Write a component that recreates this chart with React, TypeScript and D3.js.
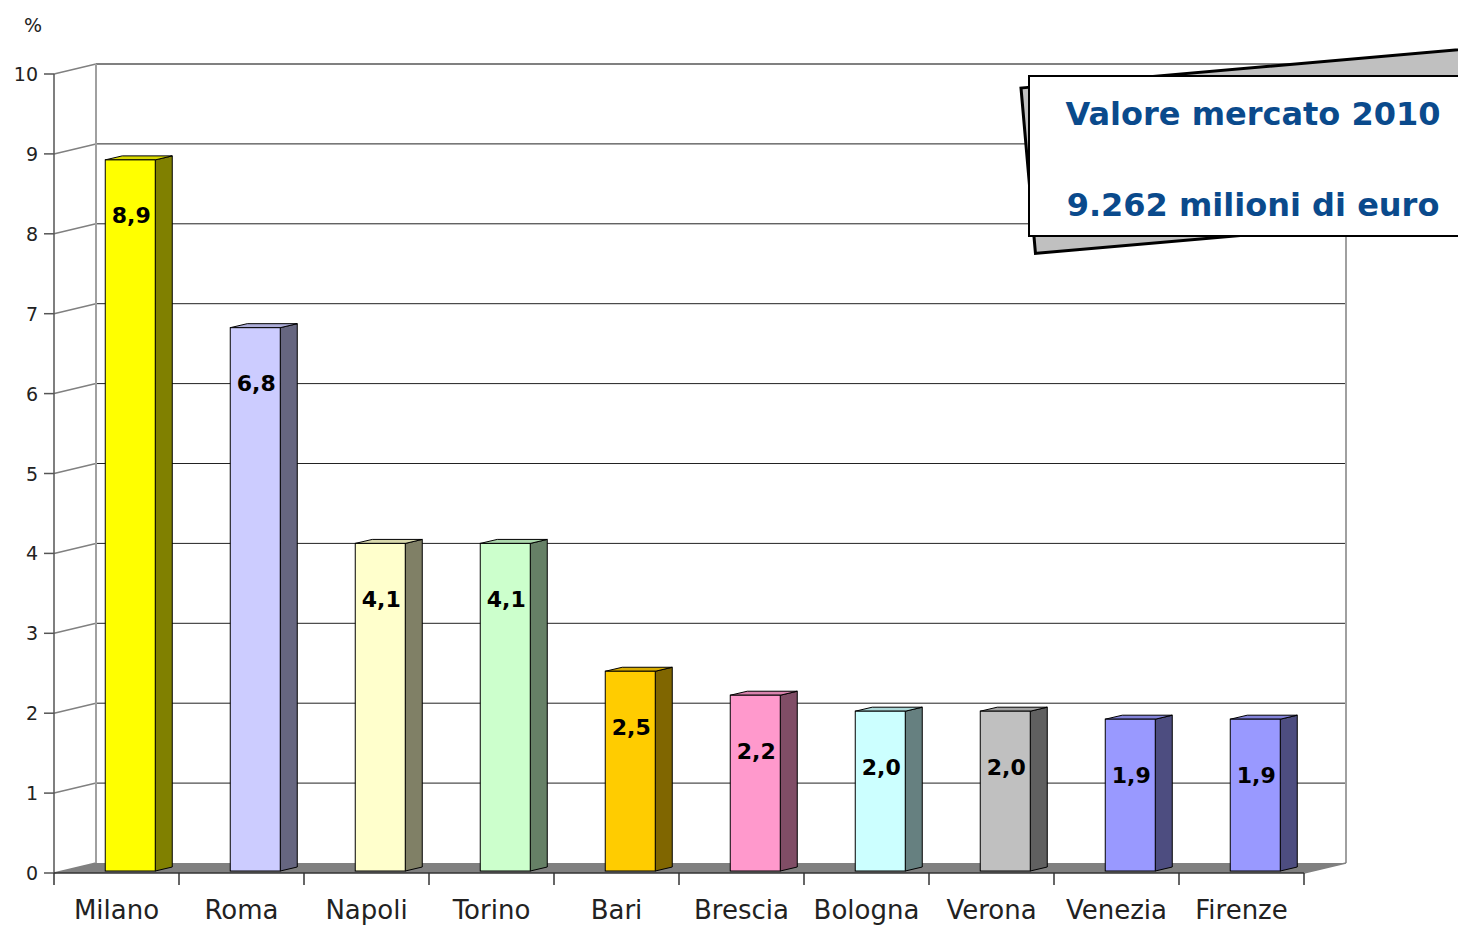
import React from "react";
import * as d3 from "d3";

const cities = ["Milano", "Roma", "Napoli", "Torino", "Bari", "Brescia", "Bologna", "Verona", "Venezia", "Firenze"];
const shares = [8.9, 6.8, 4.1, 4.1, 2.5, 2.2, 2.0, 2.0, 1.9, 1.9];
const valueLabels = ["8,9", "6,8", "4,1", "4,1", "2,5", "2,2", "2,0", "2,0", "1,9", "1,9"];
const frontColors = ["#ffff00", "#ccccff", "#ffffcc", "#ccffcc", "#ffcc00", "#ff99cc", "#ccffff", "#c0c0c0", "#9999ff", "#9999ff"];
const sideColors = ["#808000", "#666680", "#808066", "#668066", "#806600", "#804d66", "#668080", "#606060", "#4d4d80", "#4d4d80"];
const yTicks = [0, 1, 2, 3, 4, 5, 6, 7, 8, 9, 10];
const boxTitle = "Valore mercato 2010";
const boxValue = "9.262 milioni di euro";

const W = 1458;
const H = 925;
const FONT = "'DejaVu Sans', Verdana, sans-serif";

export default function App() {
  // front plane of the 3D box
  const x = d3.scaleBand<string>().domain(cities).range([54, 1304]);
  const y = d3.scaleLinear().domain([0, 10]).range([873, 74]);
  const depth = { dx: 42, dy: -10 };
  // bars sit a little behind the front plane
  const yBar = (v: number) => y(v) - 2;
  const barW = x.bandwidth() * 0.4;
  const barOff = x.bandwidth() * 0.41;
  const bd = { dx: 17, dy: -4 };

  const x0 = x.range()[0];
  const x1 = x.range()[1];
  const bx0 = x0 + depth.dx;
  const bx1 = x1 + depth.dx;
  const by = (v: number) => y(v) + depth.dy;

  return (
    <svg width={W} height={H} style={{ position: "absolute", left: 0, top: 0, background: "#fff" }}>
      {/* floor */}
      <polygon
        points={`${x0},${y(0)} ${x1},${y(0)} ${bx1},${by(0)} ${bx0},${by(0)}`}
        fill="#808080"
      />
      {/* back wall gridlines */}
      {yTicks.map((t) => (
        <g key={t}>
          <line x1={x0} y1={y(t)} x2={bx0} y2={by(t)} stroke="#808080" strokeWidth={1.5} />
          {t > 0 && (
            <line x1={bx0} y1={by(t)} x2={bx1} y2={by(t)} stroke={t === 10 ? "#808080" : "#222"} strokeWidth={t === 10 ? 2 : 1} />
          )}
        </g>
      ))}
      <line x1={bx0} y1={by(10)} x2={bx0} y2={by(0)} stroke="#a0a0a0" strokeWidth={2} />
      <line x1={bx1} y1={by(10)} x2={bx1} y2={by(0)} stroke="#a0a0a0" strokeWidth={2} />

      {/* bars */}
      {cities.map((c, i) => {
        const fx = (x(c) as number) + barOff;
        const top = yBar(shares[i]);
        const base = yBar(0);
        const topColor = d3.interpolateRgb(frontColors[i], sideColors[i])(0.3);
        return (
          <g key={c} stroke="#000" strokeWidth={1}>
            <polygon
              points={`${fx + barW},${base} ${fx + barW + bd.dx},${base + bd.dy} ${fx + barW + bd.dx},${top + bd.dy} ${fx + barW},${top}`}
              fill={sideColors[i]}
            />
            <polygon
              points={`${fx},${top} ${fx + barW},${top} ${fx + barW + bd.dx},${top + bd.dy} ${fx + bd.dx},${top + bd.dy}`}
              fill={topColor}
            />
            <rect x={fx} y={top} width={barW} height={base - top} fill={frontColors[i]} />
            <text
              x={fx + barW / 2 + 1}
              y={top + 56}
              textAnchor="middle"
              dominantBaseline="central"
              fontFamily={FONT}
              fontWeight="bold"
              fontSize={22}
              fill="#000"
              stroke="none"
            >
              {valueLabels[i]}
            </text>
          </g>
        );
      })}

      {/* y axis */}
      <line x1={x0} y1={y(10)} x2={x0} y2={y(0)} stroke="#555" strokeWidth={1.5} />
      {yTicks.map((t) => (
        <g key={t}>
          <line x1={x0 - 10} y1={y(t)} x2={x0} y2={y(t)} stroke="#555" strokeWidth={1.5} />
          <text x={38} y={y(t)} textAnchor="end" dominantBaseline="central" fontFamily={FONT} fontSize={19} fill="#222">
            {t}
          </text>
        </g>
      ))}
      <text x={33} y={25} textAnchor="middle" dominantBaseline="central" fontFamily={FONT} fontSize={19} fill="#222">
        %
      </text>

      {/* x axis */}
      <line x1={x0} y1={y(0)} x2={x1} y2={y(0)} stroke="#333" strokeWidth={1.5} />
      <line x1={x1} y1={y(0)} x2={bx1} y2={by(0)} stroke="#808080" strokeWidth={1.5} />
      {[...cities.map((c) => x(c) as number), x1].map((px, i) => (
        <line key={i} x1={px} y1={y(0)} x2={px} y2={y(0) + 12} stroke="#333" strokeWidth={1.5} />
      ))}
      {cities.map((c) => (
        <text
          key={c}
          x={(x(c) as number) + x.bandwidth() / 2}
          y={919}
          textAnchor="middle"
          fontFamily={FONT}
          fontSize={26}
          fill="#222"
        >
          {c}
        </text>
      ))}

      {/* text box with tilted shadow */}
      <g transform="translate(1021,88) rotate(-5)">
        <rect x={0} y={0} width={520} height={166} fill="#c0c0c0" stroke="#000" strokeWidth={3} />
      </g>
      <rect x={1029} y={76} width={480} height={160} fill="#fff" stroke="#000" strokeWidth={2} />
      <text x={1253} y={125} textAnchor="middle" fontFamily={FONT} fontWeight="bold" fontSize={32} fill="#0a4a8c">
        {boxTitle}
      </text>
      <text x={1253} y={216} textAnchor="middle" fontFamily={FONT} fontWeight="bold" fontSize={32} fill="#0a4a8c">
        {boxValue}
      </text>
    </svg>
  );
}
